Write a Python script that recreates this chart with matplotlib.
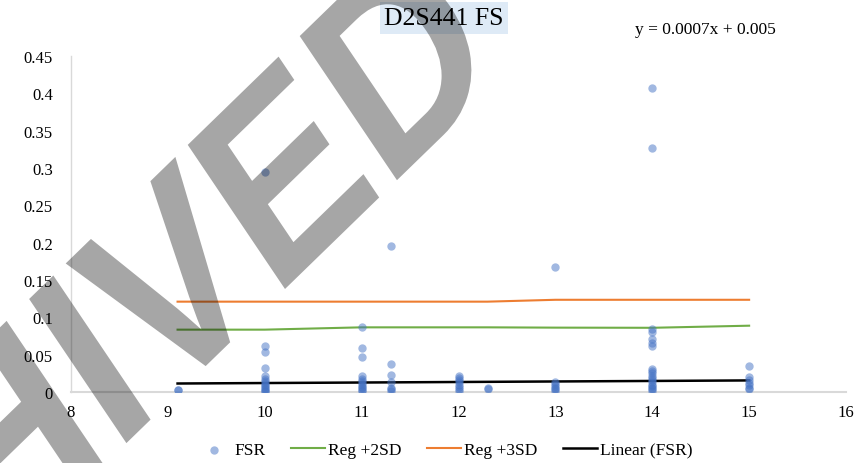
import matplotlib
matplotlib.use("Agg")
import matplotlib.pyplot as plt
from matplotlib.textpath import TextPath
from matplotlib.font_manager import FontProperties
from matplotlib.patches import PathPatch
from matplotlib.transforms import Affine2D, IdentityTransform

plt.rcParams['font.family'] = ['Liberation Serif', 'DejaVu Serif']

# FSR observations (allele size vs ratio)
fsr_x = [9.1, 9.1,
         10, 10, 10, 10, 10, 10, 10, 10, 10, 10, 10, 10, 10, 10,
         11, 11, 11, 11, 11, 11, 11, 11, 11, 11, 11, 11,
         11.3, 11.3, 11.3, 11.3, 11.3, 11.3, 11.3,
         12, 12, 12, 12, 12, 12, 12, 12,
         12.3, 12.3,
         13, 13, 13, 13, 13, 13, 13,
         14, 14, 14, 14, 14, 14, 14, 14, 14, 14, 14, 14, 14, 14, 14, 14, 14, 14, 14,
         15, 15, 15, 15, 15, 15, 15]
fsr_y = [0.003, 0.003,
         0.295, 0.061, 0.053, 0.032, 0.021, 0.018, 0.015, 0.012, 0.010, 0.008, 0.006, 0.004, 0.002, 0.001,
         0.087, 0.0585, 0.047, 0.021, 0.018, 0.015, 0.012, 0.009, 0.007, 0.005, 0.003, 0.001,
         0.196, 0.038, 0.023, 0.013, 0.006, 0.004, 0.002,
         0.022, 0.019, 0.016, 0.013, 0.010, 0.007, 0.004, 0.002,
         0.005, 0.004,
         0.167, 0.013, 0.011, 0.008, 0.006, 0.004, 0.002,
         0.407, 0.327, 0.084, 0.081, 0.071, 0.065, 0.062, 0.031, 0.028, 0.025, 0.022, 0.019,
         0.016, 0.013, 0.010, 0.008, 0.006, 0.004, 0.002,
         0.035, 0.020, 0.016, 0.012, 0.009, 0.006, 0.004]

# regression limits per allele
reg_x = [9.1, 10, 11, 11.3, 12, 12.3, 13, 14, 15]
reg_2sd = [0.0835, 0.0835, 0.0866, 0.0866, 0.0866, 0.0866, 0.0862, 0.0860, 0.0888]
reg_3sd = [0.121, 0.121, 0.121, 0.121, 0.121, 0.121, 0.1235, 0.1235, 0.1235]

trend_slope = 0.0007
trend_intercept = 0.005

xticks = [8, 9, 10, 11, 12, 13, 14, 15, 16]
yticks = [0, 0.05, 0.1, 0.15, 0.2, 0.25, 0.3, 0.35, 0.4, 0.45]
ytick_labels = ['0', '0.05', '0.1', '0.15', '0.2', '0.25', '0.3', '0.35', '0.4', '0.45']

fig = plt.figure(figsize=(8.67, 4.64), dpi=100)
ax = fig.add_axes([71 / 867, 1 - 393 / 464, 775 / 867, 336 / 464])

ax.plot(reg_x, reg_2sd, color='#70AD47', lw=1.5, label='Reg +2SD', zorder=2)
ax.plot(reg_x, reg_3sd, color='#ED7D31', lw=1.5, label='Reg +3SD', zorder=2)
tx = [min(fsr_x), max(fsr_x)]
ty = [trend_slope * v + trend_intercept for v in tx]
ax.plot(tx, ty, color='black', lw=1.8, label='Linear (FSR)', zorder=2)
ax.scatter(fsr_x, fsr_y, s=36, color='#4472C4', alpha=0.5, linewidths=0,
           label='FSR', zorder=3)

ax.set_xlim(8, 16)
ax.set_ylim(0, 0.45)
ax.set_xticks(xticks)
ax.set_xticklabels([str(t) for t in xticks])
ax.set_yticks(yticks)
ax.set_yticklabels(ytick_labels)
ax.tick_params(axis='both', length=0, labelsize=12)
ax.tick_params(axis='y', pad=13)
ax.tick_params(axis='x', pad=9)
for side in ['top', 'right']:
    ax.spines[side].set_visible(False)
ax.spines['bottom'].set_color('#D9D9D9')
ax.spines['bottom'].set_linewidth(1.5)
ax.spines['left'].set_color('#D9D9D9')
ax.spines['left'].set_linewidth(1)

handles, labels = ax.get_legend_handles_labels()
order = [3, 0, 1, 2]
fig.legend([handles[i] for i in order], [labels[i] for i in order],
           loc='center', bbox_to_anchor=(0.513, 13 / 464), ncol=4,
           frameon=False, fontsize=12.5, handlelength=2.0,
           handletextpad=0.15, columnspacing=1.45)

fig.text(444 / 867, 1 - 19 / 464, 'D2S441 FS', ha='center', va='center',
         fontsize=18.5,
         bbox=dict(boxstyle='square,pad=0.18', fc='#DEEAF6', ec='none'))
fig.text(635 / 867, 1 - 30 / 464, 'y = 0.0007x + 0.005', ha='left', va='center',
         fontsize=12.5)

# diagonal "ARCHIVED" stamp over the whole chart
wm_font = FontProperties(family='Liberation Sans', weight='bold')
wm_size = 216
word = 'ARCHIVED'
e_right = TextPath((0, 0), 'ARCHIVE', size=wm_size, prop=wm_font).get_extents().x1
e_width = TextPath((0, 0), 'E', size=wm_size, prop=wm_font).get_extents().width
e_left = e_right - e_width
wm_path = TextPath((0, 0), word, size=wm_size, prop=wm_font)
wm_tf = (Affine2D().translate(-e_left, 0).scale(1, 1.04).rotate_deg(39)
         .scale(1, 1.2).translate(285, 464 - 290))
wm_path = wm_tf.transform_path(wm_path)
fig.add_artist(PathPatch(wm_path, transform=IdentityTransform(),
                         facecolor='black', edgecolor='none', alpha=0.35,
                         zorder=10))

fig.savefig('out.png', dpi=100)
